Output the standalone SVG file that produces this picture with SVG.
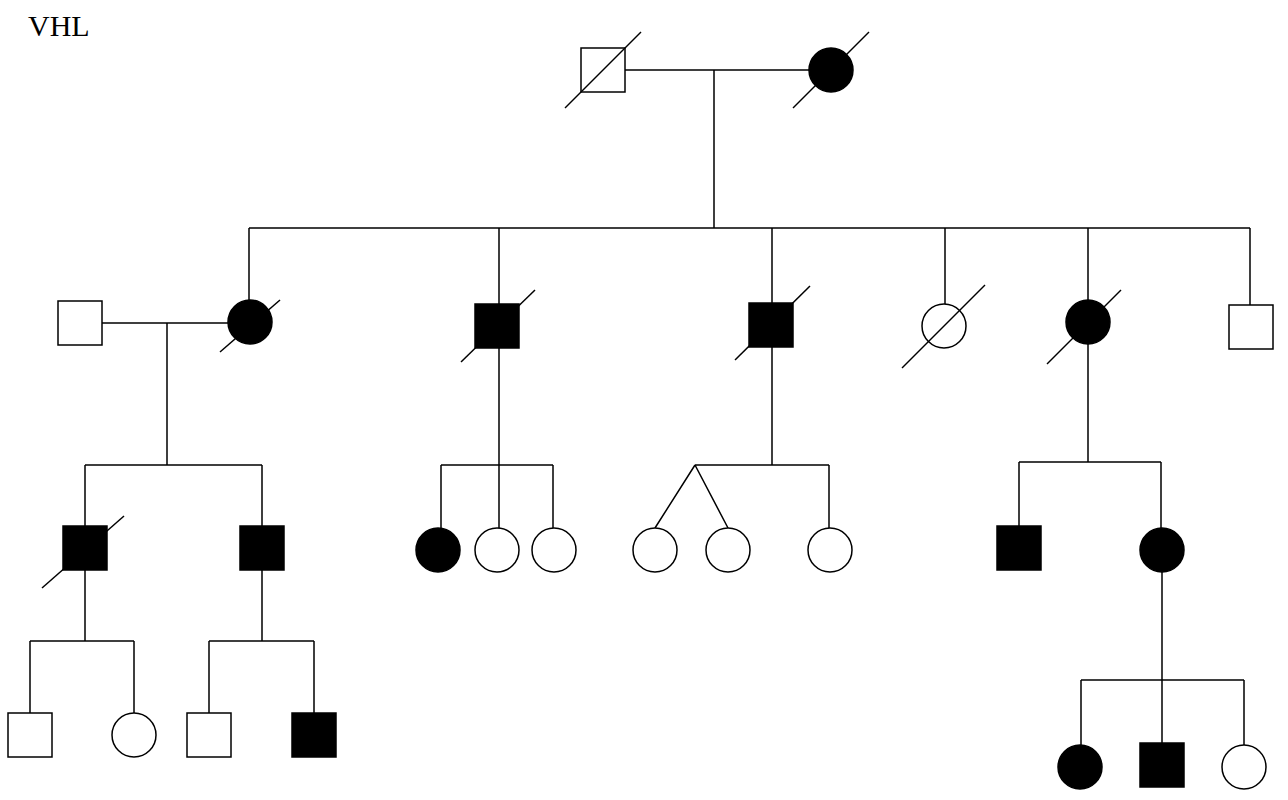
<svg xmlns="http://www.w3.org/2000/svg" width="1288" height="800" viewBox="0 0 1288 800">
<style>
.l{stroke:#000;stroke-width:1.5;fill:none}
.o{fill:#fff;stroke:#000;stroke-width:1.5}
.f{fill:#000;stroke:#000;stroke-width:1.5}
.d{stroke:#000;stroke-width:1.5}
text{font-family:"Liberation Serif",serif;font-size:30px}
</style>
<rect width="1288" height="800" fill="#fff"/>
<text x="28" y="36">VHL</text>
<g id="connectors" class="l">
<path d="M625 70H809M714 70V228M249 228H1250M249 228V300M499 228V304M772 228V303M945 228V304M1088 228V300M1250 228V305"/>
<path d="M102 323H228M167 323V465M85 465H262M85 465V526M262 465V526"/>
<path d="M85 570V641M30 641H134M30 641V713M134 641V713M262 570V641M209 641H314M209 641V713M314 641V713"/>
<path d="M499 348V465M441 465H553M441 465V528M499 465V528M553 465V528"/>
<path d="M772 347V465M695 465H829M829 465V528M695 465L655 528M695 465L728 528"/>
<path d="M1088 344V462M1019 462H1161M1019 462V526M1161 462V528M1162 572V680M1081 680H1244M1081 680V745M1162 680V743M1244 680V745"/>
</g>
<g id="n1"><rect class="o" x="581" y="48" width="44" height="44"/><line class="d" x1="565" y1="108" x2="641" y2="32"/></g>
<g id="n2"><circle class="f" cx="831" cy="70" r="22"/><line class="d" x1="793" y1="108" x2="869" y2="32"/></g>
<g id="n3"><rect class="o" x="58" y="301" width="44" height="44"/></g>
<g id="n4"><circle class="f" cx="250" cy="322" r="22"/><line class="d" x1="220" y1="352" x2="280" y2="300"/></g>
<g id="n5"><rect class="f" x="475" y="304" width="44" height="44"/><line class="d" x1="461" y1="362" x2="535" y2="290"/></g>
<g id="n6"><rect class="f" x="749" y="303" width="44" height="44"/><line class="d" x1="735" y1="360" x2="810" y2="286"/></g>
<g id="n7"><circle class="o" cx="944" cy="326" r="22"/><line class="d" x1="902" y1="368" x2="985" y2="285"/></g>
<g id="n8"><circle class="f" cx="1088" cy="322" r="22"/><line class="d" x1="1047" y1="364" x2="1121" y2="290"/></g>
<g id="n9"><rect class="o" x="1229" y="305" width="44" height="44"/></g>
<g id="n10"><rect class="f" x="63" y="526" width="44" height="44"/><line class="d" x1="42" y1="588" x2="124" y2="516"/></g>
<g id="n11"><rect class="f" x="240" y="526" width="44" height="44"/></g>
<g id="n12"><circle class="f" cx="438" cy="550" r="22"/></g>
<g id="n13"><circle class="o" cx="497" cy="550" r="22"/></g>
<g id="n14"><circle class="o" cx="554" cy="550" r="22"/></g>
<g id="n15"><circle class="o" cx="655" cy="550" r="22"/></g>
<g id="n16"><circle class="o" cx="728" cy="550" r="22"/></g>
<g id="n17"><circle class="o" cx="830" cy="550" r="22"/></g>
<g id="n18"><rect class="f" x="997" y="526" width="44" height="44"/></g>
<g id="n19"><circle class="f" cx="1162" cy="550" r="22"/></g>
<g id="n20"><rect class="o" x="8" y="713" width="44" height="44"/></g>
<g id="n21"><circle class="o" cx="134" cy="735" r="22"/></g>
<g id="n22"><rect class="o" x="187" y="713" width="44" height="44"/></g>
<g id="n23"><rect class="f" x="292" y="713" width="44" height="44"/></g>
<g id="n24"><circle class="f" cx="1080" cy="767" r="22"/></g>
<g id="n25"><rect class="f" x="1140" y="743" width="44" height="44"/></g>
<g id="n26"><circle class="o" cx="1244" cy="767" r="22"/></g>
</svg>
